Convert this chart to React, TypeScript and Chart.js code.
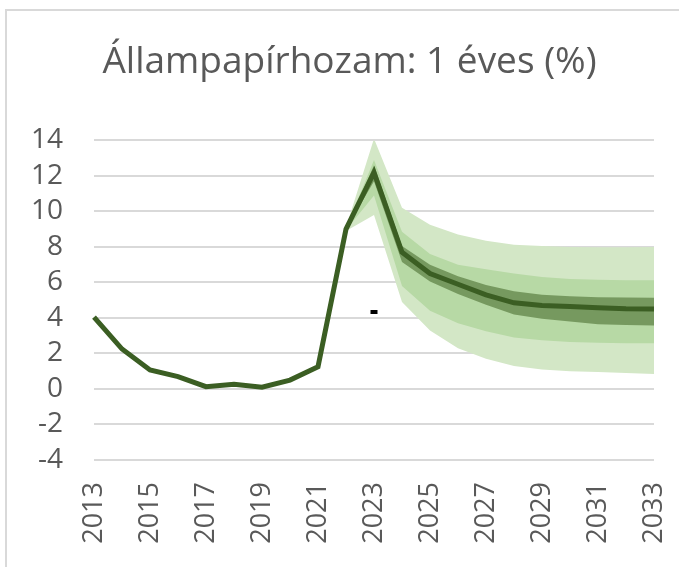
import React, { useEffect, useRef } from "react";
import { Chart, registerables } from "chart.js";

Chart.register(...registerables);

const years = ["2013","2014","2015","2016","2017","2018","2019","2020","2021","2022","2023","2024","2025","2026","2027","2028","2029","2030","2031","2032","2033"];
const yieldLine = [4.05, 2.25, 1.07, 0.7, 0.13, 0.26, 0.1, 0.5, 1.25, 9.0, 12.2, 7.7, 6.5, 5.9, 5.3, 4.85, 4.7, 4.65, 4.58, 4.52, 4.5];
const N = null;
const outerHi = [N, N, N, N, N, N, N, N, N, 9.1, 14.1, 10.2, 9.25, 8.7, 8.35, 8.12, 8.05, 8.0, 7.98, 7.98, 8.0];
const outerLo = [N, N, N, N, N, N, N, N, N, 8.9, 9.8, 4.9, 3.3, 2.3, 1.7, 1.3, 1.1, 1.0, 0.95, 0.9, 0.85];
const midHi = [N, N, N, N, N, N, N, N, N, 9.05, 12.9, 8.85, 7.6, 7.0, 6.75, 6.5, 6.3, 6.2, 6.15, 6.12, 6.12];
const midLo = [N, N, N, N, N, N, N, N, N, 8.95, 10.9, 5.8, 4.4, 3.7, 3.25, 2.9, 2.75, 2.65, 2.6, 2.57, 2.57];
const darkHi = [N, N, N, N, N, N, N, N, N, 9.02, 12.6, 8.05, 7.0, 6.35, 5.85, 5.5, 5.3, 5.22, 5.17, 5.15, 5.14];
const darkLo = [N, N, N, N, N, N, N, N, N, 8.98, 11.7, 7.15, 6.05, 5.35, 4.75, 4.2, 3.95, 3.8, 3.65, 3.6, 3.58];
const marker = [N, N, N, N, N, N, N, N, N, N, 4.33, N, N, N, N, N, N, N, N, N, N];
const yTicks = [-4, -2, 0, 2, 4, 6, 8, 10, 12, 14];
const titleText = "Állampapírhozam: 1 éves (%)";

const band = (data: (number | null)[], color: string, fill: any) => ({
  data,
  borderWidth: 0,
  borderColor: "rgba(0,0,0,0)",
  backgroundColor: color,
  pointRadius: 0,
  fill,
  tension: 0,
  spanGaps: false,
});

export default function App() {
  const ref = useRef<HTMLCanvasElement>(null);
  useEffect(() => {
    if (!ref.current) return;
    const chart = new Chart(ref.current, {
      type: "line",
      data: {
        labels: years,
        datasets: [
          {
            data: marker,
            showLine: false,
            pointStyle: "line",
            pointRadius: 3.5,
            pointBorderWidth: 4,
            borderColor: "#000",
            backgroundColor: "#000",
            pointBorderColor: "#000",
          } as any,
          {
            data: yieldLine,
            borderColor: "#3b5e23",
            borderWidth: 5,
            pointRadius: 0,
            tension: 0,
            fill: false,
          },
          band(darkHi, "#76995f", "+1"),
          band(darkLo, "#76995f", false),
          band(midHi, "#b7d9a5", "+1"),
          band(midLo, "#b7d9a5", false),
          band(outerHi, "#d3e7c6", "+1"),
          band(outerLo, "#d3e7c6", false),
        ],
      },
      options: {
        responsive: false,
        animation: false,
        layout: { padding: { left: 0, right: 0, top: 0, bottom: 0 } },
        plugins: {
          legend: { display: false },
          tooltip: { enabled: false },
          title: {
            display: true,
            text: titleText,
            color: "#595959",
            font: { family: "'Open Sans'", size: 37, weight: "normal" },
            padding: { top: 40, bottom: 56 },
          },
        },
        scales: {
          x: {
            type: "category",
            offset: false,
            grid: { display: false, drawTicks: false },
            border: { display: false },
            ticks: {
              color: "#595959",
              font: { family: "'Open Sans'", size: 27 },
              maxRotation: 90,
              minRotation: 90,
              autoSkip: false,
              padding: 22,
              callback: function (val: any, idx: number) {
                return idx % 2 === 0 ? years[idx] : "";
              },
            },
            afterFit: (s: any) => {
              s.height = 107;
              s.paddingRight = 45;
              s.paddingLeft = 0;
            },
          },
          y: {
            min: -4,
            max: 14,
            afterBuildTicks: (s: any) => {
              s.ticks = yTicks.map((v) => ({ value: v }));
            },
            grid: { color: "#d9d9d9", lineWidth: 2, drawTicks: false },
            border: { display: false },
            ticks: {
              color: "#595959",
              font: { family: "'Open Sans'", size: 28 },
              padding: 31,
              autoSkip: false,
            },
            afterFit: (s: any) => {
              s.width = 94;
            },
          },
        },
      },
    });
    return () => chart.destroy();
  }, []);
  return (
    <div style={{ position: "absolute", left: 0, top: 0, width: 679, height: 567, background: "#fff", overflow: "hidden" }}>
      <div
        style={{
          position: "absolute",
          left: 5,
          top: 9,
          width: 700,
          height: 600,
          borderTop: "2px solid #d9d9d9",
          borderLeft: "2px solid #d9d9d9",
        }}
      />
      <canvas ref={ref} width={699} height={567} style={{ position: "absolute", left: 0, top: 0 }} />
    </div>
  );
}
